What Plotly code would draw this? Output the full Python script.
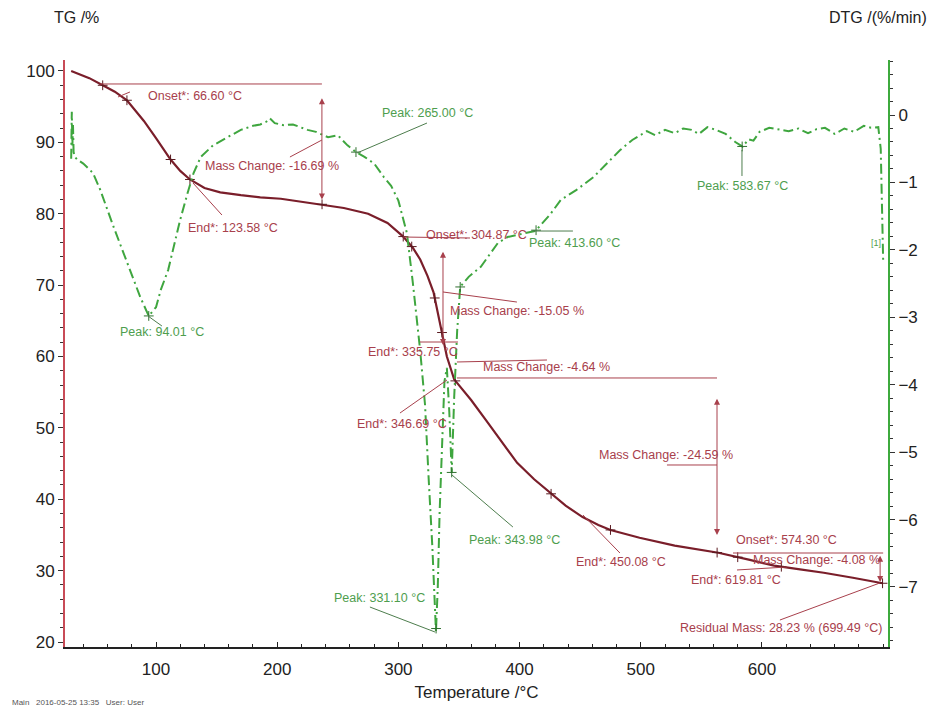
import numpy as np
import plotly.graph_objects as go

# ---------------- data ----------------
tg_temp = [30, 45, 56, 66, 76, 90, 100, 112, 120, 128, 140, 153, 170, 186, 203, 220, 238, 255, 275, 291,
           304, 312, 318, 324, 329, 335, 340, 346, 352, 360, 373, 385, 398, 412, 425, 438, 452, 465, 475,
           499, 528, 564, 590, 610, 630, 651, 675, 699.5]
tg_mass = [100, 99.0, 98.0, 97.1, 95.9, 93.0, 90.6, 87.6, 86.0, 84.8, 83.6, 83.0, 82.6, 82.3, 82.1, 81.7,
           81.3, 80.8, 80.0, 78.7, 76.8, 75.2, 73.6, 71.3, 69.0, 64.2, 60.0, 56.8, 55.5, 53.9, 50.9, 48.1,
           45.1, 42.8, 40.9, 39.1, 37.5, 36.4, 35.7, 34.6, 33.5, 32.5, 31.5, 30.7, 30.2, 29.7, 29.0, 28.23]

dtg_temp = [30, 30.5, 31, 31.5, 32, 33, 35, 40, 48, 54, 65, 76, 87, 94, 100, 104, 110, 114, 120, 126, 131,
            137, 147, 159, 170, 180, 186, 191, 194, 198, 205, 213, 225, 232, 242, 250, 258, 265, 272, 280,
            288, 294, 300, 307, 312, 318, 322, 325, 328, 331, 332.5, 334, 336, 338, 340, 342, 344, 346,
            348.5, 351, 358, 368, 382, 390, 400, 413, 425, 434, 447, 461, 473, 483, 493, 499, 505, 512,
            520, 528, 535, 542, 548, 555, 562, 570, 578, 584, 589, 593, 598, 606, 614, 622, 630, 638, 645,
            652, 660, 668, 676, 684, 690, 696, 698, 699, 700]
dtg_rate = [-0.65, 0.05, -0.45, -0.15, -0.55, -0.62, -0.66, -0.72, -0.86, -1.11, -1.66, -2.19, -2.70,
            -2.98, -2.85, -2.59, -2.30, -2.00, -1.55, -1.16, -0.86, -0.62, -0.45, -0.33, -0.22, -0.16,
            -0.14, -0.10, -0.05, -0.12, -0.15, -0.14, -0.22, -0.25, -0.33, -0.30, -0.45, -0.55, -0.62,
            -0.72, -0.92, -1.05, -1.27, -1.75, -2.50, -3.50, -4.30, -5.40, -6.40, -7.66, -7.00, -5.90,
            -4.90, -3.95, -3.75, -4.40, -5.31, -4.20, -3.20, -2.55, -2.40, -2.25, -1.90, -1.81, -1.77,
            -1.72, -1.48, -1.26, -1.11, -0.92, -0.70, -0.52, -0.37, -0.30, -0.24, -0.30, -0.22, -0.27,
            -0.20, -0.22, -0.28, -0.18, -0.22, -0.28, -0.40, -0.47, -0.36, -0.38, -0.25, -0.19, -0.21,
            -0.24, -0.20, -0.27, -0.21, -0.19, -0.28, -0.20, -0.25, -0.16, -0.19, -0.18, -0.50, -1.30,
            -2.15]

tg_event_temps = [56, 76, 112, 128, 237, 304, 311, 330, 336, 347, 426, 475, 563, 580, 616, 699.5]
dtg_event_temps = [94.01, 265.0, 331.1, 343.98, 351, 413.6, 583.67]

x_ticks = [100, 200, 300, 400, 500, 600]

# annotation texts (label, x, y in TG coordinates)
red_labels = [
    ("Onset*: 66.60 °C", 132.2, 96.5),
    ("Mass Change: -16.69 %", 195.7, 86.7),
    ("End*: 123.58 °C", 163.5, 78.0),
    ("Onset*: 304.87 °C", 364.8, 77.0),
    ("Mass Change: -15.05 %", 397.8, 66.4),
    ("End*: 335.75 °C", 312.0, 60.6),
    ("Mass Change: -4.64 %", 422.6, 58.5),
    ("End*: 346.69 °C", 303.0, 50.5),
    ("Mass Change: -24.59 %", 520.8, 46.2),
    ("End*: 450.08 °C", 483.6, 31.2),
    ("Onset*: 574.30 °C", 620.6, 34.3),
    ("Mass Change: -4.08 %", 645.4, 31.5),
    ("End*: 619.81 °C", 578.5, 28.7),
    ("Residual Mass: 28.23 % (699.49 °C)", 615.7, 21.96),
]
green_labels = [
    ("Peak: 94.01 °C", 104.9, 63.43),
    ("Peak: 265.00 °C", 324.4, 94.1),
    ("Peak: 413.60 °C", 444.9, 75.9),
    ("Peak: 583.67 °C", 584.3, 83.9),
    ("Peak: 343.98 °C", 395.4, 34.3),
    ("Peak: 331.10 °C", 284.8, 26.2),
]
red_lines = [
    (53.8, 98.18, 236.9, 98.18), (68.6, 96.36, 78.5, 97.06), (210.5, 87.95, 236.9, 90.33),
    (130.5, 84.31, 154.4, 79.82), (303.8, 76.74, 359.1, 76.6), (336.8, 69.04, 397.8, 67.63),
    (317.8, 62.03, 349.2, 62.03), (348.3, 59.23, 422.6, 59.51), (348.3, 56.99, 562.9, 56.99),
    (301.3, 52.08, 340.1, 56.71), (521.6, 44.8, 562.9, 44.8), (452.3, 37.79, 482.8, 32.47),
    (576.1, 32.47, 700.0, 32.47), (579.4, 30.09, 620.6, 30.51), (614.8, 23.08, 697.3, 28.27),
]
red_arrows = [(236.9, 96.4, 236.9, 82.0), (336.8, 74.9, 336.8, 61.6), (562.9, 54.3, 562.9, 35.0),
              (697.5, 32.3, 697.5, 28.4)]
green_lines = [
    (93.4, 65.67, 104.9, 64.27), (265.8, 88.51, 323.6, 92.71), (411.0, 77.58, 444.0, 77.58),
    (583.5, 88.93, 583.5, 85.29), (344.2, 43.4, 394.5, 36.11), (276.5, 24.9, 330.2, 21.4),
]

# ---------------- styling ----------------
FONT = "Liberation Sans Narrow, Arial Narrow, Liberation Sans, Arial, sans-serif"
TG_COLOR = "#7A1E2A"
RED_TXT = "#A8404C"
RED_AX = "#C84B57"
DTG_COLOR = "#3FA63F"
GREEN_TXT = "#4E9E4E"
GREEN_AX = "#3DAA3D"
ANN_SIZE = 12.5
TICK_SIZE = 17

fig = go.Figure()
fig.add_trace(go.Scatter(x=dtg_temp, y=dtg_rate, mode="lines", yaxis="y2",
                         line=dict(color=DTG_COLOR, width=2, dash="10px,4px,2px,4px"),
                         showlegend=False, hoverinfo="skip"))
fig.add_trace(go.Scatter(x=tg_temp, y=tg_mass, mode="lines",
                         line=dict(color=TG_COLOR, width=2.2), showlegend=False, hoverinfo="skip"))
fig.add_trace(go.Scatter(x=tg_event_temps, y=np.interp(tg_event_temps, tg_temp, tg_mass), mode="markers",
                         marker=dict(symbol="cross-thin", size=7, line=dict(color="#5a1a20", width=1)),
                         showlegend=False, hoverinfo="skip"))
fig.add_trace(go.Scatter(x=dtg_event_temps, y=np.interp(dtg_event_temps, dtg_temp, dtg_rate), mode="markers",
                         yaxis="y2",
                         marker=dict(symbol="cross-thin", size=7, line=dict(color="#2f6f2f", width=1)),
                         showlegend=False, hoverinfo="skip"))

shapes = []
for (x0, y0, x1, y1) in red_lines:
    shapes.append(dict(type="line", xref="x", yref="y", x0=x0, y0=y0, x1=x1, y1=y1,
                       line=dict(color=RED_TXT, width=1)))
for (x0, y0, x1, y1) in green_lines:
    shapes.append(dict(type="line", xref="x", yref="y", x0=x0, y0=y0, x1=x1, y1=y1,
                       line=dict(color="#4d7d4d", width=1)))

annotations = []
for (t, x, y) in red_labels:
    annotations.append(dict(text=t, x=x, y=y, xref="x", yref="y", showarrow=False,
                            font=dict(family=FONT, size=ANN_SIZE, color=RED_TXT)))
for (t, x, y) in green_labels:
    annotations.append(dict(text=t, x=x, y=y, xref="x", yref="y", showarrow=False,
                            font=dict(family=FONT, size=ANN_SIZE, color=GREEN_TXT)))
for (x0, y0, x1, y1) in red_arrows:
    annotations.append(dict(text="", x=x1, y=y1, ax=x0, ay=y0, xref="x", yref="y", axref="x", ayref="y",
                            showarrow=True, arrowhead=2, arrowside="end+start", arrowsize=1.2,
                            arrowwidth=1, arrowcolor=RED_TXT))
annotations += [
    dict(text="[1]", x=694, y=75.9, xref="x", yref="y", showarrow=False,
         font=dict(family=FONT, size=9, color=GREEN_TXT)),
    dict(text="TG /%", x=0.0134, y=1.0716, xref="paper", yref="paper", showarrow=False,
         xanchor="center", yanchor="middle", font=dict(family=FONT, size=16, color="#222")),
    dict(text="DTG /(%/min)", x=0.926, y=1.0716, xref="paper", yref="paper", showarrow=False,
         xanchor="left", yanchor="middle", font=dict(family=FONT, size=16, color="#222")),
    dict(text="Main   2016-05-25 13:35   User: User", x=-0.0668, y=-0.0937, xref="paper", yref="paper",
         showarrow=False, xanchor="left", yanchor="middle", font=dict(family=FONT, size=8, color="#555")),
]

fig.update_layout(
    width=934, height=707,
    margin=dict(l=57, r=54, t=52, b=68),
    paper_bgcolor="white", plot_bgcolor="white",
    font=dict(family=FONT, color="#222"),
    shapes=shapes, annotations=annotations,
    xaxis=dict(range=[24.9, 704], tickvals=x_ticks, showgrid=False, zeroline=False,
               showline=True, linecolor="#222", linewidth=2, ticks="inside", ticklen=5, tickcolor="#222",
               ticklabelstandoff=6,
               minor=dict(ticks="inside", dtick=20, tick0=0, ticklen=3, tickcolor="#222"),
               tickfont=dict(family=FONT, size=TICK_SIZE, color="#222"),
               title=dict(text="Temperature /°C", font=dict(family=FONT, size=17, color="#222"), standoff=8)),
    yaxis=dict(range=[19.3, 101.54], dtick=10, tick0=0, showgrid=False, zeroline=False,
               showline=True, linecolor=RED_AX, linewidth=2, ticks="outside", ticklen=5, tickcolor="#333",
               minor=dict(ticks="outside", dtick=2, tick0=0, ticklen=3, tickcolor="#333"),
               tickfont=dict(family=FONT, size=TICK_SIZE, color="#222")),
    yaxis2=dict(range=[-7.89, 0.816], dtick=1, tick0=0, overlaying="y", side="right", showgrid=False,
                zeroline=False, showline=True, linecolor=GREEN_AX, linewidth=2, ticks="outside", ticklen=5,
                tickcolor="#333", minor=dict(ticks="outside", dtick=0.2, tick0=0, ticklen=3, tickcolor="#333"),
                tickfont=dict(family=FONT, size=TICK_SIZE, color="#222")),
)

fig.write_html("out.html")
